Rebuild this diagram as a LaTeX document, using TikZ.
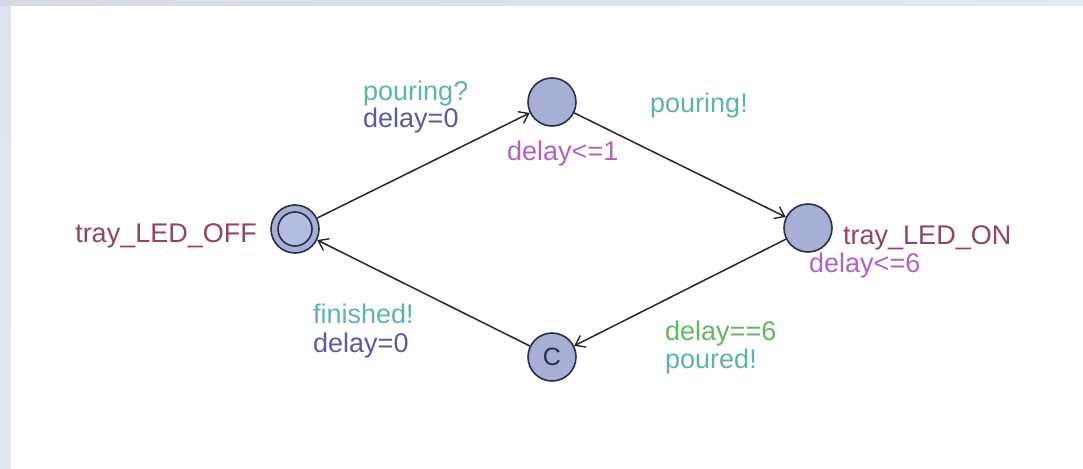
\documentclass[tikz,border=0pt]{standalone}
\usepackage{fontspec}
\setmainfont{Liberation Sans}
\usetikzlibrary{arrows.meta}
\definecolor{bgstrip}{HTML}{DDE4EF}
\definecolor{bgstripa}{HTML}{D6D9E5}
\definecolor{bgstripb}{HTML}{E2E9F4}
\definecolor{locfill}{HTML}{A7AFD5}
\definecolor{locinner}{HTML}{B4BCE0}
\definecolor{locline}{HTML}{2A2D4C}
\definecolor{namecol}{HTML}{964268}
\definecolor{synccol}{HTML}{5CB3AF}
\definecolor{assigncol}{HTML}{5A5AA6}
\definecolor{invcol}{HTML}{B262C2}
\definecolor{guardcol}{HTML}{62B862}
\definecolor{edgecol}{HTML}{262626}
\tikzset{
  loc/.style={circle, draw=locline, fill=locfill, line width=1.6pt, minimum size=48pt, inner sep=0pt},
  lbl/.style={inner sep=0pt, font=\fontsize{27}{32}\selectfont},
  edge/.style={draw=edgecol, line width=1.5pt, -{Straight Barb[length=9pt,width=13pt,line width=1.4pt]}}
}
\begin{document}
\begin{tikzpicture}[x=1pt,y=-1pt]
\useasboundingbox (0,0) rectangle (1083,468);
\shade[top color=bgstrip, bottom color=bgstripb] (0,0) rectangle (1083,468);
\shade[left color=bgstripa, right color=bgstripb] (0,0) rectangle (1083,6);
\fill[white] (11,6) rectangle (1090,475);
% locations
\node[loc] (off) at (295,229) {};
\node[circle, draw=locline, fill=locinner, line width=1.6pt, minimum size=34pt, inner sep=0pt] (offin) at (off.center) {};
\node[loc] (top) at (552,102) {};
\node[loc] (on) at (808,228) {};
\node[loc, text=locline, font=\fontsize{25}{30}\selectfont] (c) at (552,357) {C};
% edges
\draw[edge] (off) -- (top);
\draw[edge] (top) -- (on);
\draw[edge] (on) -- (c);
\draw[edge] (c) -- (off);
% names and invariants
\node[lbl, text=namecol, anchor=base east] (offname) at (257,242) {tray\_LED\_OFF};
\node[lbl, text=namecol, anchor=base west] (onname) at (843,244) {tray\_LED\_ON};
\node[lbl, text=invcol, anchor=base west] (oninv) at (809,272) {delay<=6};
\node[lbl, text=invcol, anchor=base west] (topinv) at (507,160) {delay<=1};
% edge labels
\node[lbl, text=synccol, anchor=base west] (s1) at (363,101) {pouring?};
\node[lbl, text=assigncol, anchor=base west] (a1) at (363,128) {delay=0};
\node[lbl, text=synccol, anchor=base west] (s2) at (650,113) {pouring!};
\node[lbl, text=guardcol, anchor=base west] (g3) at (665,340) {delay==6};
\node[lbl, text=synccol, anchor=base west] (s3) at (665,368) {poured!};
\node[lbl, text=synccol, anchor=base west] (s4) at (313,323) {finished!};
\node[lbl, text=assigncol, anchor=base west] (a4) at (313,352) {delay=0};
\end{tikzpicture}
\end{document}
